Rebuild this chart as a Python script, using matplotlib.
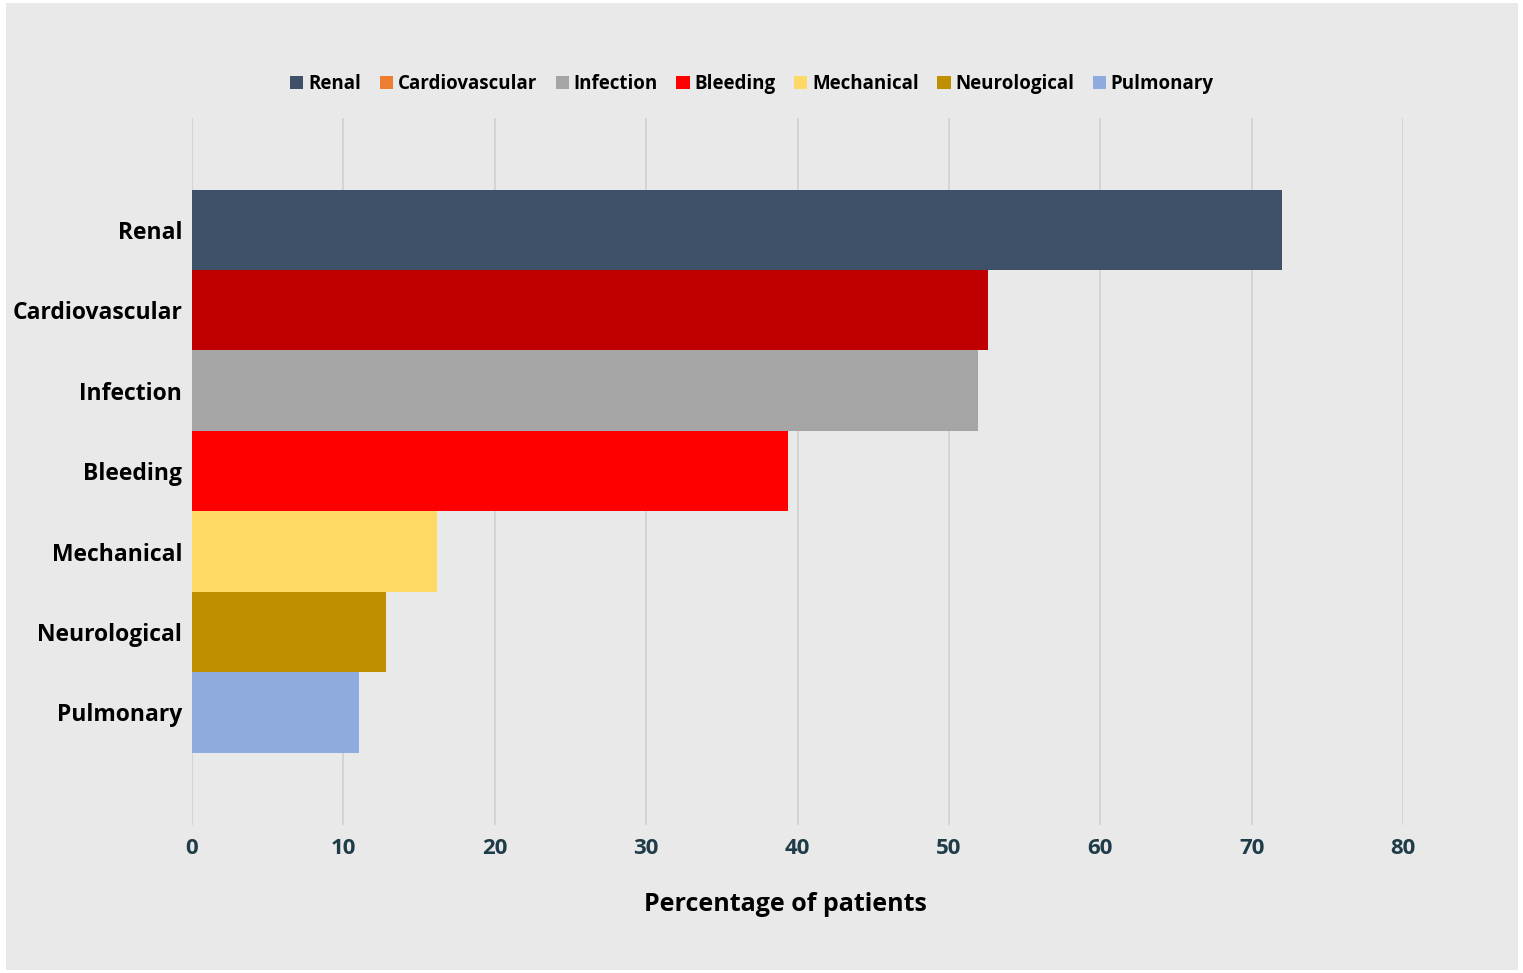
import matplotlib
matplotlib.use('Agg')
import matplotlib.pyplot as plt
from matplotlib.patches import Patch, Rectangle

# Complication categories (top to bottom) and share of patients (%)
categorias = ['Renal', 'Cardiovascular', 'Infection', 'Bleeding',
              'Mechanical', 'Neurological', 'Pulmonary']
percentuais = [72.0, 52.6, 51.9, 39.4, 16.2, 12.8, 11.0]
cores_barras = ['#3f5069', '#c00000', '#a5a5a5', '#ff0000',
                '#ffd966', '#bf8f00', '#8faadc']
cores_legenda = ['#3f5069', '#ed7d31', '#a5a5a5', '#ff0000',
                 '#ffd966', '#bf8f00', '#8faadc']
ticks_x = [0, 10, 20, 30, 40, 50, 60, 70, 80]

fonte = ['Open Sans', 'DejaVu Sans']
cor_ticks = '#1f3c48'

fig = plt.figure(figsize=(15.23, 9.73), dpi=100, facecolor='white')
# painel cinza de fundo
fig.patches.append(Rectangle((6 / 1523, 3 / 973), 1512 / 1523, 967 / 973,
                             transform=fig.transFigure, facecolor='#e9e9e9',
                             edgecolor='none', zorder=-10))

ax = fig.add_axes([192 / 1523, 1 - 825 / 973, (1403 - 192) / 1523, (825 - 118) / 973])
ax.set_facecolor('none')
ax.set_zorder(1)

posicoes = list(range(len(categorias)))
ax.barh(posicoes, percentuais, height=1.0, color=cores_barras, zorder=3)

ax.set_xlim(0, 80)
ax.set_ylim(len(categorias) - 1 + 1.4, -1.39)
ax.set_xticks(ticks_x)
ax.set_xticklabels([str(t) for t in ticks_x], fontfamily=fonte, fontweight='bold',
                   fontsize=16, color=cor_ticks)
ax.set_yticks(posicoes)
ax.set_yticklabels(categorias, fontfamily=fonte, fontweight='bold', fontsize=16.5,
                   color='black')
ax.tick_params(axis='both', length=0)
ax.tick_params(axis='x', pad=9)
ax.tick_params(axis='y', pad=7)

ax.grid(axis='x', color='#d2d2d2', linewidth=1.3, zorder=1)
ax.set_axisbelow(True)
for lado in ax.spines.values():
    lado.set_visible(False)

ax.set_xlabel('Percentage of patients', fontfamily=fonte, fontweight='bold',
              fontsize=18, color='black')
ax.xaxis.set_label_coords(0.49, -0.095)

# Legenda
handles = [Patch(facecolor=c, edgecolor='none') for c in cores_legenda]
fig.legend(handles, categorias, loc='center', bbox_to_anchor=(752 / 1523, 1 - 84 / 973),
           ncol=len(categorias), frameon=False, handlelength=0.7, handleheight=0.7,
           handletextpad=0.25, columnspacing=1.0,
           prop={'family': fonte, 'weight': 'bold', 'size': 13.5})

fig.savefig('out.png', dpi=100, facecolor='white')
